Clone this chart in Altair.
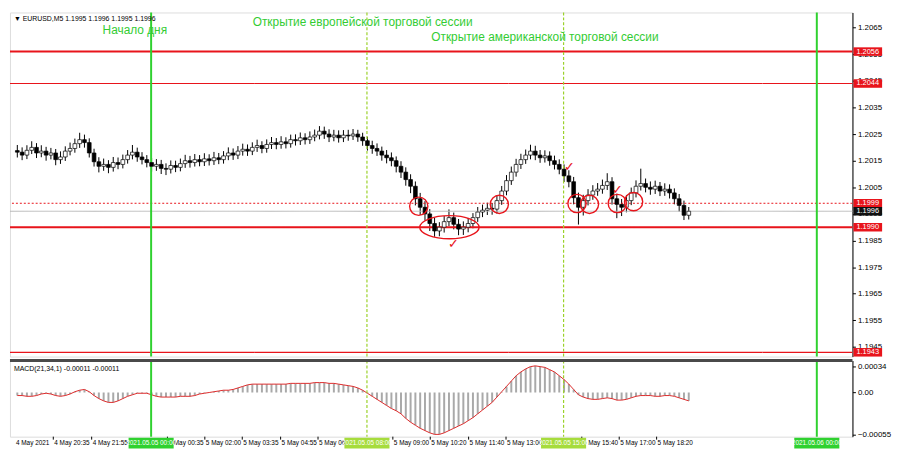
import altair as alt
import pandas as pd

# ---------------- data (prices in pips relative to BASE) ----------------
BASE = 1.2000
close_pips = [18.2,17.1,18.9,20.0,17.9,18.6,17.1,17.9,15.4,16.4,
    18.6,19.6,21.4,22.9,21.8,17.9,14.6,12.9,13.6,12.5,
    14.3,13.6,15.4,17.1,18.2,16.4,15.4,14.3,12.9,13.6,
    12.1,11.8,13.2,12.5,13.9,15.0,14.3,15.4,14.6,15.7,
    15.0,16.1,15.4,16.8,17.9,17.1,18.6,19.3,18.6,20.0,
    20.7,19.6,21.1,21.8,21.1,22.1,21.4,22.9,22.5,23.6,
    22.9,23.9,24.6,26.1,25.0,23.9,24.6,23.6,24.6,24.3,
    25.0,23.9,22.5,20.7,19.6,18.6,17.1,16.1,15.0,12.9,
    10.7,7.9,5.4,0.7,-2.5,-5.0,-8.6,-11.4,-10.0,-7.9,
    -6.4,-8.9,-10.7,-10.0,-8.6,-6.4,-4.3,-3.6,-2.9,-3.2,
    0.0,3.6,7.5,10.7,13.6,15.4,17.1,18.6,17.1,16.1,
    16.8,15.0,13.6,11.8,9.3,7.1,1.1,-2.5,0.0,2.1,
    3.6,4.3,5.7,7.1,0.7,-1.4,-2.5,0.0,2.9,5.4,
    6.4,5.0,4.3,5.4,3.6,4.3,2.9,0.7,-1.8,-5.5,
    -4.0]
open_pips = [18.8,18.2,17.1,18.9,20.0,17.9,18.6,17.1,17.9,15.4,
    16.4,18.6,19.6,21.4,22.9,21.8,17.9,14.6,12.9,13.6,
    12.5,14.3,13.6,15.4,17.1,18.2,16.4,15.4,14.3,12.9,
    13.6,12.1,11.8,13.2,12.5,13.9,15.0,14.3,15.4,14.6,
    15.7,15.0,16.1,15.4,16.8,17.9,17.1,18.6,19.3,18.6,
    20.0,20.7,19.6,21.1,21.8,21.1,22.1,21.4,22.9,22.5,
    23.6,22.9,23.9,24.6,26.1,25.0,23.9,24.6,23.6,24.6,
    24.3,25.0,23.9,22.5,20.7,19.6,18.6,17.1,16.1,15.0,
    12.9,10.7,7.9,5.4,0.7,-2.5,-5.0,-8.6,-11.4,-10.0,
    -7.9,-6.4,-8.9,-10.7,-10.0,-8.6,-6.4,-4.3,-3.6,-2.9,
    -3.2,0.0,3.6,7.5,10.7,13.6,15.4,17.1,18.6,17.1,
    16.1,16.8,15.0,13.6,11.8,9.3,7.1,1.1,-2.5,0.0,
    2.1,3.6,4.3,5.7,7.1,0.7,-1.4,-2.5,0.0,2.9,
    5.4,6.4,5.0,4.3,5.4,3.6,4.3,2.9,0.7,-1.8,
    -5.5]
high_pips = [20.9,20.0,20.8,22.3,21.6,20.8,20.2,19.8,19.4,18.5,
    20.4,21.8,23.3,25.5,24.8,23.4,19.5,16.3,15.8,15.2,
    16.4,16.2,17.3,19.0,20.9,19.9,18.2,17.1,16.0,15.6,
    15.3,14.0,15.1,15.0,15.8,17.2,16.8,17.5,17.1,17.8,
    17.4,18.3,17.9,18.6,20.0,19.6,20.5,21.4,21.1,21.9,
    22.9,22.3,23.0,23.9,23.5,24.2,23.8,24.8,24.9,25.6,
    25.3,26.0,26.7,28.0,27.8,26.8,26.6,26.4,26.5,26.6,
    26.9,26.6,25.5,24.0,22.5,21.5,20.3,19.0,18.1,16.6,
    14.8,12.5,9.9,7.2,2.9,-0.2,-3.2,-6.5,-8.1,-5.8,
    -3.3,-4.5,-6.9,-7.8,-6.5,-4.7,-2.4,-1.5,-0.8,-0.9,
    2.0,5.5,9.6,12.8,15.7,17.6,19.2,21.0,20.6,19.0,
    18.9,18.5,16.9,15.5,13.6,11.4,8.9,3.0,2.2,4.3,
    5.8,6.6,7.9,10.3,8.8,2.6,0.6,2.1,4.9,7.6,
    12.0,8.3,7.2,7.5,7.0,6.5,6.1,4.6,2.5,0.0,
    -2.4]
low_pips = [16.2,15.2,15.6,17.5,16.0,16.3,15.0,15.5,13.3,13.8,
    14.9,17.0,18.0,19.8,19.9,16.2,12.8,10.6,11.2,10.3,
    10.9,11.8,12.1,13.9,15.5,14.6,13.6,12.5,10.9,11.2,
    10.0,9.6,10.2,10.7,11.0,12.3,12.4,12.8,12.9,13.0,
    13.2,13.4,13.7,13.9,15.2,15.3,15.6,16.9,16.8,17.1,
    18.3,17.8,18.0,19.4,19.3,19.5,19.6,19.9,20.7,20.9,
    21.1,21.3,22.3,23.0,23.2,22.0,22.3,21.8,22.0,22.5,
    22.8,22.1,20.6,18.8,17.6,16.8,15.0,14.0,12.9,10.6,
    8.5,5.6,2.8,-1.8,-5.4,-7.5,-11.4,-13.6,-13.4,-12.0,
    -9.6,-10.8,-13.0,-12.9,-11.9,-10.4,-8.0,-6.2,-5.4,-5.3,
    -4.9,-1.6,2.0,5.9,9.0,11.9,13.8,15.5,15.2,14.2,
    14.3,13.1,11.7,9.9,7.0,5.0,-1.4,-9.0,-5.6,-1.8,
    0.3,1.8,2.6,4.0,-1.5,-6.6,-5.8,-4.4,-1.7,1.2,
    3.8,3.1,2.2,2.5,1.7,1.8,0.8,-1.4,-4.1,-7.3,
    -7.1]
# MACD values in units of 0.0001
macd_e4 = [-0.4,-0.4,-0.5,-0.5,-0.4,-0.2,-0.1,-0.2,-0.4,-0.5,
    -0.4,-0.2,0.1,0.3,0.4,0.1,-0.4,-0.8,-1.1,-1.3,
    -1.3,-1.1,-0.8,-0.5,-0.3,-0.1,-0.1,-0.1,-0.3,-0.5,
    -0.6,-0.6,-0.6,-0.6,-0.5,-0.5,-0.5,-0.4,-0.2,-0.1,
    0.0,0.1,0.2,0.3,0.3,0.4,0.6,0.8,1.0,1.1,
    1.1,1.1,1.1,1.1,1.1,1.1,1.1,1.2,1.2,1.2,
    1.2,1.2,1.3,1.3,1.3,1.2,1.2,1.1,1.0,0.9,
    0.8,0.6,0.3,-0.1,-0.5,-0.9,-1.3,-1.7,-2.1,-2.4,
    -2.8,-3.4,-3.9,-4.3,-4.7,-5.0,-5.3,-5.5,-5.5,-5.3,
    -5.0,-4.7,-4.4,-4.1,-3.7,-3.3,-2.8,-2.3,-1.8,-1.3,
    -0.6,0.1,0.8,1.5,2.2,2.7,3.1,3.4,3.5,3.4,
    3.3,3.0,2.7,2.2,1.7,1.1,0.4,-0.3,-0.6,-0.8,
    -0.9,-0.9,-0.8,-0.7,-0.8,-1.0,-1.0,-0.9,-0.7,-0.5,
    -0.4,-0.4,-0.4,-0.5,-0.5,-0.4,-0.4,-0.5,-0.7,-0.9,
    -1.1]

price_ticks = [1.2065,1.2055,1.2045,1.2035,1.2025,1.2015,1.2005,1.1995,
               1.1985,1.1975,1.1965,1.1955,1.1945]
macd_ticks = [0.00034, 0.0, -0.00055]

level_prices = [1.2056, 1.2044, 1.1999, 1.1990, 1.1943, 1.1996]
level_width = [2, 1.2, 1, 2, 1.2, 1]
level_color = ["#e8141b", "#e8141b", "#e8141b", "#e8141b", "#e8141b", "#b8b8b8"]
level_dash = [[1, 0], [1, 0], [2, 2], [1, 0], [1, 0], [1, 0]]
box_labels = ["1.2056", "1.2044", "1.1999", "1.1990", "1.1943", "1.1996"]
box_colors = ["#e8141b", "#e8141b", "#e8141b", "#e8141b", "#e8141b", "#111111"]

vline_x = [28.4, 73.4, 114.4, 167.2]
vline_width = [2, 1.2, 1.2, 2]
vline_color = ["#2fd12f", "#9bd12a", "#9bd12a", "#2fd12f"]
vline_dash = [[1, 0], [3, 2], [3, 2], [1, 0]]

note_x = [25.0, 72.5, 110.5]
note_p = [1.20640, 1.20670, 1.20614]
note_t = ["Начало дня", "Открытие европейской торговой сессии",
          "Открытие американской торговой сессии"]

circle_x = [84.2, 101.0, 117.2, 119.8, 125.6, 129.0]
circle_p = [1.19979, 1.19986, 1.19989, 1.19986, 1.19989, 1.19996]
ellipse_x = [90.6]
ellipse_p = [1.19900]
check_x = [91.4, 115.6, 125.6]
check_p = [1.19835, 1.20125, 1.20039]

time_tick_x = [0.0, 8.0, 16.0, 31.8, 39.6, 47.4, 55.4, 63.2, 78.8, 86.6,
               94.6, 102.4, 118.2, 126.0, 133.8]
time_tick_lbl = ["4 May 2021", "4 May 20:35", "4 May 21:55", "5 May 00:35",
                 "5 May 02:00", "5 May 03:35", "5 May 04:55", "5 May 06:15",
                 "5 May 09:00", "5 May 10:20", "5 May 11:40", "5 May 13:00",
                 "5 May 15:40", "5 May 17:00", "5 May 18:20"]
hl_x = [28.4, 73.4, 114.4, 167.2]
hl_lbl = ["2021.05.05 00:00", "2021.05.05 08:00", "2021.05.05 15:00",
          "2021.05.06 00:00"]
hl_col = ["#2fd12f", "#a6dc3c", "#a6dc3c", "#2fd12f"]

header = "▼ EURUSD,M5  1.1995 1.1996 1.1995 1.1996"
macd_title = "MACD(21,34,1) -0.00011 -0.00011"

# ---------------- layout ----------------
W = 852
HM = 348
HB = 77
FONT = "Liberation Sans"
RED = "#e8141b"

n = len(close_pips)
candles = pd.DataFrame({
    "x": [i + 0.5 for i in range(n)],
    "o": [round(BASE + v / 1e4, 5) for v in open_pips],
    "c": [round(BASE + v / 1e4, 5) for v in close_pips],
    "h": [round(BASE + v / 1e4, 5) for v in high_pips],
    "l": [round(BASE + v / 1e4, 5) for v in low_pips],
    "m": [round(v / 1e4, 6) for v in macd_e4],
})

xs = alt.Scale(domain=[0, 173.6], nice=False, zero=False)
ys = alt.Scale(domain=[1.19414, 1.20707], nice=False, zero=False)
ms = alt.Scale(domain=[-0.00058, 0.00042], nice=False, zero=False)
X = alt.X("x:Q", scale=xs, axis=None)

AX_MAIN = alt.Axis(orient="right", values=price_ticks, format=".4f",
                   labelFont=FONT, labelFontSize=8, labelColor="black",
                   tickSize=3, tickColor="black", labelPadding=2,
                   domainColor="black", grid=False, title=None)
AX_MACD = alt.Axis(orient="right", values=macd_ticks,
                   labelExpr="datum.value == 0 ? '0.00' : format(datum.value, '.5f')",
                   labelFont=FONT, labelFontSize=8, labelColor="black",
                   tickSize=3, tickColor="black", labelPadding=2,
                   domainColor="black", grid=False, title=None)


def YM(field):
    return alt.Y(field, scale=ys, axis=AX_MAIN, title=None)


def YB(field):
    return alt.Y(field, scale=ms, axis=AX_MACD, title=None)


base = alt.Chart(candles)
wicks = base.mark_rule(color="black", strokeWidth=1).encode(
    x=X, y=YM("l:Q"), y2="h:Q")
bodies = base.mark_bar(size=3.8, stroke="black", strokeWidth=0.7).encode(
    x=X, y=YM("o:Q"), y2="c:Q",
    fill=alt.condition("datum.c >= datum.o", alt.value("white"), alt.value("black")),
)

lv_df = pd.DataFrame({"p": level_prices, "w": level_width, "col": level_color,
                      "dash": level_dash, "lbl": box_labels, "bcol": box_colors})
levels = alt.Chart(lv_df).mark_rule().encode(
    y=YM("p:Q"),
    color=alt.Color("col:N", scale=None),
    strokeWidth=alt.StrokeWidth("w:Q", scale=None),
    strokeDash=alt.StrokeDash("dash", scale=None),
)

vl_df = pd.DataFrame({"x": vline_x, "w": vline_width, "col": vline_color,
                      "dash": vline_dash})


def vlines():
    return alt.Chart(vl_df).mark_rule().encode(
        x=X,
        color=alt.Color("col:N", scale=None),
        strokeWidth=alt.StrokeWidth("w:Q", scale=None),
        strokeDash=alt.StrokeDash("dash", scale=None),
    )


notes = alt.Chart(pd.DataFrame({"x": note_x, "p": note_p, "t": note_t})).mark_text(
    font=FONT, fontSize=12, color="#33cc33", align="center", baseline="middle"
).encode(x=X, y=YM("p:Q"), text="t:N")

circles = alt.Chart(pd.DataFrame({"x": circle_x, "p": circle_p})).mark_point(
    shape="circle", filled=False, color=RED, strokeWidth=1.4, size=340, opacity=1
).encode(x=X, y=YM("p:Q"))

ellipse = alt.Chart(pd.DataFrame({"x": ellipse_x, "p": ellipse_p})).mark_point(
    shape="M -1 0 A 1 0.39 0 1 0 1 0 A 1 0.39 0 1 0 -1 0 Z",
    filled=False, color=RED, strokeWidth=1.4, size=3600, opacity=1
).encode(x=X, y=YM("p:Q"))

checks = alt.Chart(pd.DataFrame({"x": check_x, "p": check_p, "t": ["✓"] * len(check_x)})).mark_text(
    font="DejaVu Sans", fontSize=13, color=RED, align="center", baseline="middle"
).encode(x=X, y=YM("p:Q"), text="t:N")

header_txt = alt.Chart(pd.DataFrame({"t": [header]})).mark_text(
    font=FONT, fontSize=7, color="black", align="left", baseline="middle"
).encode(x=alt.value(4), y=alt.value(7), text="t:N")

boxes = alt.Chart(lv_df).transform_calculate(
    lo="datum.p - 0.00016", hi="datum.p + 0.00016"
).mark_rect().encode(
    x=alt.value(W + 1), x2=alt.value(W + 30),
    y=YM("lo:Q"), y2="hi:Q",
    color=alt.Color("bcol:N", scale=None),
)
box_txt = alt.Chart(lv_df).mark_text(
    font=FONT, fontSize=7.5, color="white", align="left", baseline="middle"
).encode(x=alt.value(W + 4), y=YM("p:Q"), text="lbl:N")

main = alt.layer(
    wicks, levels, vlines(), bodies,
    circles, ellipse, checks, notes, header_txt, boxes, box_txt
).properties(width=W, height=HM)

# ---------------- MACD panel ----------------
hist = base.mark_bar(size=2, color="#a9a9a9").encode(
    x=X, y=YB("m:Q"), y2=alt.datum(0))
sig = base.mark_line(color="#dd2a2a", strokeWidth=1).encode(x=X, y=YB("m:Q"))
sep = alt.Chart(pd.DataFrame({"k": [0]})).mark_rule(color="#4a4a4a", strokeWidth=3).encode(
    x=alt.value(0), x2=alt.value(W), y=alt.value(0))
macd_lbl = alt.Chart(pd.DataFrame({"t": [macd_title]})).mark_text(
    font=FONT, fontSize=7, color="black", align="left", baseline="middle"
).encode(x=alt.value(4), y=alt.value(9), text="t:N")

tdf = pd.DataFrame({"x": time_tick_x, "t": time_tick_lbl})
tticks = alt.Chart(tdf.iloc[1:]).mark_rule(color="black").encode(
    x=X, y=alt.value(HB), y2=alt.value(HB + 3))
tlabels = alt.Chart(tdf).mark_text(
    font=FONT, fontSize=6.5, color="black", align="left", baseline="top", dx=1
).encode(x=X, y=alt.value(HB + 3), text="t:N")
hdf = pd.DataFrame({"x": hl_x, "t": hl_lbl, "col": hl_col})
hboxes = alt.Chart(hdf).transform_calculate(
    a="datum.x - 4.7", b="datum.x + 4.7"
).mark_rect().encode(
    x=alt.X("a:Q", scale=xs, axis=None), x2="b:Q",
    y=alt.value(HB + 1), y2=alt.value(HB + 12),
    color=alt.Color("col:N", scale=None),
)
htext = alt.Chart(hdf).mark_text(
    font=FONT, fontSize=6.5, color="white", align="center", baseline="middle"
).encode(x=X, y=alt.value(HB + 6.5), text="t:N")

macd = alt.layer(
    hist, sig, vlines(), sep, macd_lbl, tticks, tlabels, hboxes, htext
).properties(width=W, height=HB)

chart = alt.vconcat(main, macd, spacing=0).configure_view(
    stroke="black", strokeWidth=1
).configure(background="white").properties(padding=0)

chart.save("out.html", embed_options={"renderer": "svg", "actions": False})
